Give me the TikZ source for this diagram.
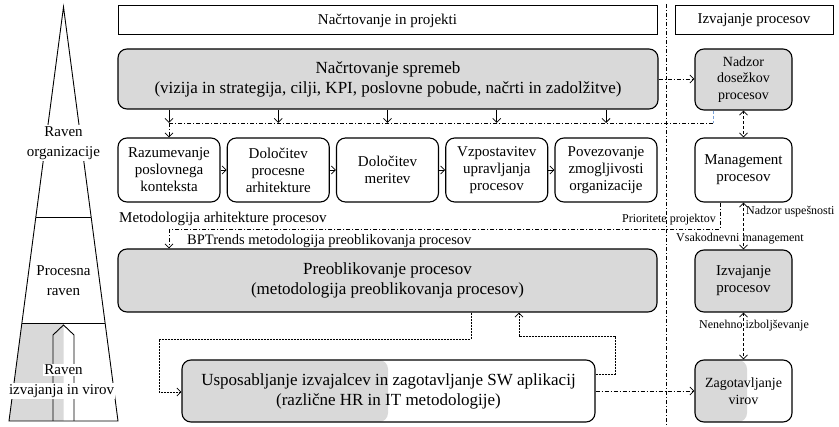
\documentclass[tikz,border=0pt]{standalone}
\usepackage{fontspec}
\setmainfont{Liberation Serif}
\usetikzlibrary{arrows.meta,calc}
\definecolor{boxgray}{RGB}{217,217,217}
\definecolor{linkblue}{RGB}{120,160,215}
\tikzset{
  boxbase/.style={draw, rounded corners=9pt, line width=1.1pt, align=center, inner sep=0pt},
  gbox/.style={boxbase, fill=boxgray},
  wbox/.style={boxbase},
  hdrbox/.style={draw, line width=1pt, inner sep=0pt, font=\fontsize{15}{18}\selectfont},
  bigtxt/.style={font=\fontsize{17}{20}\selectfont},
  midtxt/.style={font=\fontsize{15}{17}\selectfont},
  smalltxt/.style={font=\fontsize{14}{16.5}\selectfont},
  lbl/.style={font=\fontsize{12}{14}\selectfont, inner sep=1pt},
  conn/.style={line width=0.75pt},
  tip/.style={-{Straight Barb[length=4pt,width=8pt]}},
  bitip/.style={{Straight Barb[length=4pt,width=8pt]}-{Straight Barb[length=4pt,width=8pt]}},
  dashdot/.style={dash pattern=on 4pt off 2pt on 1pt off 2pt},
  shortdash/.style={dash pattern=on 3pt off 2pt},
  finedash/.style={dash pattern=on 2pt off 1pt},
  pyr/.style={line width=0.9pt},
  pyrtxt/.style={font=\fontsize{15}{20}\selectfont, align=center, inner sep=1pt}
}
\begin{document}
\begin{tikzpicture}[x=1pt,y=-1pt]
\useasboundingbox (0,0) rectangle (839,427);

% ---------- level pyramid ----------
\coordinate (apex) at (63.5,7);
\coordinate (bl) at (9,421);
\coordinate (br) at (118,421);
\coordinate (l1) at ($(apex)!0.5072!(bl)$);
\coordinate (r1x) at ($(apex)!0.5072!(br)$);
\coordinate (l2) at ($(apex)!0.7633!(bl)$);
\coordinate (r2x) at ($(apex)!0.7633!(br)$);
\fill[boxgray] (l2) -- (63.5,323) -- (63.5,421) -- (bl) -- cycle;
\draw[pyr] (apex) -- (bl) -- (br) -- cycle;
\draw[pyr] (l1) -- (r1x);
\draw[pyr] (l2) -- (r2x);
\draw[pyr] (53,421) -- (53,335) -- (63.5,325) -- (74,335) -- (74,421);
\node[pyrtxt, fill=white] (lvorg) at (63.5,143) {Raven\\organizacije};
\node[pyrtxt] (lvproc) at (63.5,281) {Procesna\\raven};
\node[pyrtxt, fill=white] (lvexec1) at (63.5,370) {Raven};
\node[pyrtxt, fill=white] (lvexec2) at (61.5,391) {izvajanja in virov};

% ---------- headers and divider ----------
\node[hdrbox, minimum width=539pt, minimum height=29pt] (hdrL) at (387.5,20.5) {Načrtovanje in projekti};
\node[hdrbox, minimum width=158pt, minimum height=29pt] (hdrR) at (754,20.5) {Izvajanje procesov};
\coordinate (divtop) at (666,4);
\coordinate (divbot) at (666,427);
\draw[line width=0.8pt, dashdot] (divtop) -- (divbot);

% ---------- planning boxes ----------
\node[gbox, bigtxt, minimum width=540pt, minimum height=60pt] (plan) at (388,79)
  {Načrtovanje spremeb\\(vizija in strategija, cilji, KPI, poslovne pobude, načrti in zadolžitve)};
\node[gbox, smalltxt, minimum width=97pt, minimum height=61pt] (nadzor) at (743.5,79.5)
  {Nadzor\\dosežkov\\procesov};

\node[wbox, midtxt, minimum width=102pt, minimum height=64pt] (ra) at (169,170) {Razumevanje\\poslovnega\\konteksta};
\node[wbox, midtxt, minimum width=102pt, minimum height=64pt] (rb) at (278.25,170) {Določitev\\procesne\\arhitekture};
\node[wbox, midtxt, minimum width=102pt, minimum height=64pt] (rc) at (387.5,170) {Določitev\\meritev};
\node[wbox, midtxt, minimum width=102pt, minimum height=64pt] (rd) at (496.75,170) {Vzpostavitev\\upravljanja\\procesov};
\node[wbox, midtxt, minimum width=102pt, minimum height=64pt] (re) at (606,170) {Povezovanje\\zmogljivosti\\organizacije};
\node[wbox, midtxt, minimum width=97pt, minimum height=64pt] (mgmt) at (743.5,170) {Management\\procesov};

\node[midtxt, anchor=base west, inner sep=0pt] (metarch) at (119,223) {Metodologija arhitekture procesov};
\node[font=\fontsize{14.5}{16}\selectfont, anchor=base west, inner sep=0pt] (metbpt) at (187,245) {BPTrends metodologija preoblikovanja procesov};

% ---------- redesign and execution boxes ----------
\node[gbox, bigtxt, minimum width=539pt, minimum height=63pt] (preob) at (387.5,280.5)
  {Preoblikovanje procesov\\(metodologija preoblikovanja procesov)};
\node[gbox, midtxt, minimum width=97pt, minimum height=62pt] (izv) at (743.5,281) {Izvajanje\\procesov};

\fill[boxgray, rounded corners=9pt] (182,360) rectangle (388,422);
\node[wbox, bigtxt, minimum width=413pt, minimum height=62pt] (usp) at (388.5,391)
  {Usposabljanje izvajalcev in zagotavljanje SW aplikacij\\(različne HR in IT metodologije)};
\fill[boxgray, rounded corners=9pt] (695,360) rectangle (747,422);
\node[wbox, smalltxt, minimum width=97pt, minimum height=62pt] (zag) at (743.5,391) {Zagotavljanje\\virov};

% ---------- connectors: planning ----------
\draw[conn, dashdot, tip] (plan.east) -- (nadzor.west |- plan.east);
\coordinate (bus1) at (0,123);
\foreach \b in {ra,rb,rc,rd,re}
  \draw[conn, tip] (plan.south -| \b) -- (bus1 -| \b);
\coordinate (nz1) at (713,123);
\draw[conn, linkblue, shortdash] (nadzor.south -| nz1) -- (nz1);
\draw[conn, dashdot] (nz1) -- (bus1 -| ra);
\draw[conn, dashdot, tip] (bus1 -| ra) -- (ra.north);
\draw[conn, tip] (ra) -- (rb);
\draw[conn, tip] (rb) -- (rc);
\draw[conn, tip] (rc) -- (rd);
\draw[conn, tip] (rd) -- (re);

% ---------- connectors: execution column ----------
\draw[conn, shortdash, bitip] (nadzor.south) -- (mgmt.north);
\draw[conn, shortdash, bitip] (mgmt.south) -- (izv.north);
\node[lbl, anchor=west] (lbsucc) at (745,212) {Nadzor uspešnosti};
\node[lbl, anchor=base] (lbdaily) at (740,242) {Vsakodnevni management};
\draw[conn, shortdash, bitip] (izv.south) -- (zag.north);
\node[lbl, anchor=base] (lbimpr) at (754,329) {Nenehno izboljševanje};

% ---------- connectors: priorities to redesign ----------
\coordinate (pr1) at (720,229);
\draw[conn, dashdot] (mgmt.south -| pr1) -- (pr1) -- (pr1 -| ra);
\draw[conn, dashdot, tip] (pr1 -| ra) -- (preob.north -| ra);
\node[lbl, anchor=base east] (lbprio) at (717,223) {Prioritete projektov};

% ---------- connectors: redesign and training ----------
\coordinate (dn1) at (471,339);
\coordinate (dn2) at (159,392);
\draw[conn, finedash, tip] (preob.south -| dn1) -- (dn1) -- (dn1 -| dn2) -- (dn2) -- (usp.west |- dn2);
\coordinate (up1) at (615,374);
\coordinate (up2) at (519,336);
\draw[conn, finedash, tip] (usp.east |- up1) -- (up1) -- (up1 |- up2) -- (up2) -- (preob.south -| up2);
\draw[conn, dashdot, tip] (usp.east) -- (zag.west);
\end{tikzpicture}
\end{document}
